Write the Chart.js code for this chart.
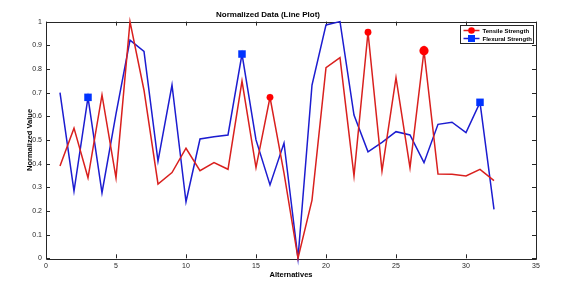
<!DOCTYPE html>
<html>
<head>
<meta charset="utf-8">
<script src="https://cdn.jsdelivr.net/npm/chart.js@4.4.1/dist/chart.umd.min.js"></script>
<style>
html,body{margin:0;padding:0;background:#fff;}
#wrap{width:583px;height:285px;position:relative;}
</style>
</head>
<body>
<div id="wrap"><canvas id="c" width="583" height="285"></canvas></div>
<script>
// ---- data ----
const alternatives = [1,2,3,4,5,6,7,8,9,10,11,12,13,14,15,16,17,18,19,20,21,22,23,24,25,26,27,28,29,30,31,32];
const tensile = [0.39,0.55,0.34,0.69,0.34,1.0,0.71,0.314,0.362,0.465,0.37,0.404,0.376,0.749,0.383,0.68,0.36,0,0.246,0.805,0.848,0.348,0.955,0.369,0.763,0.383,0.877,0.356,0.355,0.348,0.376,0.328];
const flexural = [0.70,0.284,0.68,0.277,0.61,0.922,0.874,0.411,0.732,0.239,0.504,0.514,0.521,0.863,0.50,0.31,0.487,0,0.732,0.986,1.0,0.605,0.45,0.49,0.535,0.521,0.404,0.566,0.575,0.531,0.659,0.207];
const tensileMarked = [16,23,27];
const flexuralMarked = [3,14,31];
const xTicks = [0,5,10,15,20,25,30,35];
const yTicks = [0,0.1,0.2,0.3,0.4,0.5,0.6,0.7,0.8,0.9,1];
const yTickLabels = ['0','0.1','0.2','0.3','0.4','0.5','0.6','0.7','0.8','0.9','1'];
const seriesNames = ['Tensile Strength','Flexural Strength'];

const RED_LINE = '#d9201e', RED_MARK = '#ff0000';
const BLUE_LINE = '#1c1cd0', BLUE_MARK = '#0033ff';
const AX = '#262626';
const FONT = '"Liberation Sans", Arial, Helvetica, sans-serif';

function toXY(vals){ return alternatives.map((a,i)=>({x:a,y:vals[i]})); }

const framePlugin = {
  id:'frame',
  beforeDatasetsDraw(chart){
    const {ctx, chartArea:a, scales} = chart;
    ctx.save();
    ctx.strokeStyle = AX;
    ctx.lineWidth = 1;
    ctx.beginPath();
    ctx.rect(Math.round(a.left)+0.5, Math.round(a.top)+0.5, Math.round(a.right-a.left), Math.round(a.bottom-a.top));
    ctx.stroke();
    const tl = 4;
    ctx.beginPath();
    xTicks.forEach(v=>{
      const px = Math.round(scales.x.getPixelForValue(v))+0.5;
      ctx.moveTo(px, a.bottom); ctx.lineTo(px, a.bottom - tl);
      ctx.moveTo(px, a.top); ctx.lineTo(px, a.top + tl);
    });
    yTicks.forEach(v=>{
      const py = Math.round(scales.y.getPixelForValue(v))+0.5;
      ctx.moveTo(a.left, py); ctx.lineTo(a.left + tl, py);
      ctx.moveTo(a.right, py); ctx.lineTo(a.right - tl, py);
    });
    ctx.stroke();
    ctx.restore();
  }
};

const legendPlugin = {
  id:'boxLegend',
  afterDraw(chart){
    const {ctx, chartArea:a} = chart;
    const w = 73, h = 18;
    const x0 = Math.round(a.right) - 75.5, y0 = Math.round(a.top) + 3.5;
    ctx.save();
    ctx.fillStyle = '#fff';
    ctx.fillRect(x0, y0, w, h);
    ctx.strokeStyle = AX; ctx.lineWidth = 1;
    ctx.strokeRect(x0, y0, w, h);
    const rows = [
      {name:seriesNames[0], line:RED_LINE, mark:RED_MARK, shape:'circle'},
      {name:seriesNames[1], line:BLUE_LINE, mark:BLUE_MARK, shape:'rect'}
    ];
    ctx.font = 'bold 6px ' + FONT;
    ctx.textBaseline = 'middle';
    rows.forEach((r,i)=>{
      const cy = y0 + 5 + i*8;
      ctx.strokeStyle = r.line; ctx.lineWidth = 1.5;
      ctx.beginPath(); ctx.moveTo(x0+3, cy); ctx.lineTo(x0+19, cy); ctx.stroke();
      ctx.fillStyle = r.mark;
      if (r.shape==='circle'){ ctx.beginPath(); ctx.arc(x0+11, cy, 3.3, 0, Math.PI*2); ctx.fill(); }
      else { ctx.fillRect(x0+7.5, cy-3.5, 7, 7); }
      ctx.fillStyle = '#000';
      ctx.fillText(r.name, x0+22, cy+0.5);
    });
    ctx.restore();
  }
};

new Chart(document.getElementById('c'), {
  type:'line',
  data:{
    datasets:[
      {
        label:seriesNames[0],
        data:toXY(tensile),
        borderColor:RED_LINE,
        backgroundColor:RED_MARK,
        borderWidth:1.5,
        pointStyle:'circle',
        pointBorderWidth:0,
        pointRadius:(c)=>{ const x = alternatives[c.dataIndex]; if(!tensileMarked.includes(x)) return 0; return x===27 ? 4.6 : 3.4; },
        pointHoverRadius:0,
        tension:0,
        clip:false
      },
      {
        label:seriesNames[1],
        data:toXY(flexural),
        borderColor:BLUE_LINE,
        backgroundColor:BLUE_MARK,
        borderWidth:1.5,
        pointStyle:'rect',
        pointBorderWidth:0,
        pointRadius:(c)=> flexuralMarked.includes(alternatives[c.dataIndex]) ? 5.3 : 0,
        pointHoverRadius:0,
        tension:0,
        clip:false
      }
    ]
  },
  options:{
    responsive:false,
    animation:false,
    events:[],
    layout:{padding:{left:0,right:47,top:0,bottom:0}},
    plugins:{
      legend:{display:false},
      tooltip:{enabled:false},
      title:{
        display:true,
        text:'Normalized Data (Line Plot)',
        color:'#000',
        font:{family:FONT, size:8, weight:'bold', lineHeight:1.2},
        padding:{top:10,bottom:2}
      }
    },
    scales:{
      x:{
        type:'linear', min:0, max:35,
        afterBuildTicks(s){ s.ticks = xTicks.map(v=>({value:v})); },
        afterFit(s){ s.height = 26.7; },
        grid:{display:false, drawTicks:false},
        border:{display:false},
        ticks:{color:AX, padding:4, font:{family:FONT, size:7}, maxRotation:0, autoSkip:false, callback:(v)=>String(v)},
        title:{display:true, text:'Alternatives', color:'#000', font:{family:FONT, size:7.5, weight:'bold', lineHeight:1.2}, padding:{top:0,bottom:6}}
      },
      y:{
        type:'linear', min:0, max:1,
        afterBuildTicks(s){ s.ticks = yTicks.map(v=>({value:v})); },
        afterFit(s){ s.width = 46; },
        grid:{display:false, drawTicks:false},
        border:{display:false},
        ticks:{color:AX, padding:4, font:{family:FONT, size:7}, autoSkip:false, callback:(v,i)=>yTickLabels[i]},
        title:{display:true, text:'Normalized Value', color:'#000', font:{family:FONT, size:7.5, weight:'bold', lineHeight:1.2}, padding:{top:25,bottom:0}}
      }
    }
  },
  plugins:[framePlugin, legendPlugin]
});
</script>
</body>
</html>
